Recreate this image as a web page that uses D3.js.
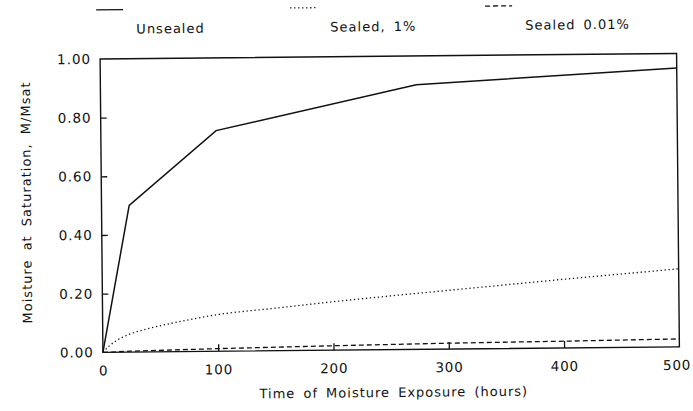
<!DOCTYPE html>
<html>
<head>
<meta charset="utf-8">
<script src="https://cdn.jsdelivr.net/npm/d3@7"></script>
<style>
  html, body { margin: 0; padding: 0; background: #fff; }
  svg { display: block; }
  text { font-family: "DejaVu Sans", Verdana, sans-serif; fill: #111; }
</style>
</head>
<body>
<svg id="chart" width="693" height="411"></svg>
<script>
// Moisture uptake vs. exposure time
const unsealedHours = [0, 24, 100, 274, 500];
const unsealedM     = [0, 0.50, 0.752, 0.902, 0.950];

const sealed1Hours = [0, 5, 12, 24, 40, 60, 100, 150, 200, 250, 300, 350, 400, 450, 500];
const sealed1M     = [0, 0.02, 0.04, 0.062, 0.08, 0.097, 0.125, 0.145, 0.165, 0.183, 0.200, 0.217, 0.234, 0.250, 0.266];

const sealed001Hours = [0, 24, 100, 200, 300, 400, 500];
const sealed001M     = [0, 0.003, 0.009, 0.015, 0.020, 0.023, 0.027];

const seriesNames = ["Unsealed", "Sealed, 1%", "Sealed 0.01%"];
const seriesDash  = [null, "1.3,2.7", "5,3"];

const xTickValues = [0, 100, 200, 300, 400, 500];
const yTickValues = [0, 0.2, 0.4, 0.6, 0.8, 1.0];

const xTitle = "Time of Moisture Exposure (hours)";
const yTitle = "Moisture at Saturation, M/Msat";

const svg = d3.select("#chart");
const plotLeft = 101.5, plotRight = 678, plotTop = 56.2, plotBottom = 349.6;

// the whole sheet sits slightly tilted
const root = svg.append("g").attr("transform", "rotate(-0.55, 390, 203)");

const x = d3.scaleLinear().domain([0, 500]).range([plotLeft, plotRight]);
const y = d3.scaleLinear().domain([0, 1]).range([plotBottom, plotTop]);

// frame
root.append("rect")
  .attr("x", plotLeft).attr("y", plotTop)
  .attr("width", plotRight - plotLeft).attr("height", plotBottom - plotTop)
  .attr("fill", "none").attr("stroke", "#111").attr("stroke-width", 1.4);

// x axis with inward ticks
const xAxis = root.append("g")
  .attr("transform", `translate(0,${plotBottom})`)
  .call(d3.axisBottom(x).tickValues(xTickValues).tickFormat(d3.format("d")).tickSize(0).tickPadding(0));
xAxis.select(".domain").remove();
xAxis.selectAll(".tick line").remove();
xAxis.selectAll(".tick").filter(d => d > 0 && d < 500)
  .append("line").attr("y1", 0).attr("y2", -7).attr("stroke", "#111").attr("stroke-width", 1.3);
xAxis.selectAll(".tick text")
  .attr("y", 23).attr("dy", 0)
  .attr("dx", d => d === 500 ? -3 : 0)
  .style("font-size", "13.5px").style("letter-spacing", "0.8px").attr("fill", "#111");

// y axis with inward ticks
const yAxis = root.append("g")
  .attr("transform", `translate(${plotLeft},0)`)
  .call(d3.axisLeft(y).tickValues(yTickValues).tickFormat(d3.format(".2f")).tickSize(0).tickPadding(9));
yAxis.select(".domain").remove();
yAxis.selectAll(".tick line").remove();
yAxis.selectAll(".tick").filter(d => d > 0 && d < 1)
  .append("line").attr("x1", 0).attr("x2", 6).attr("stroke", "#111").attr("stroke-width", 1.3);
yAxis.selectAll(".tick text")
  .style("font-size", "13.5px").style("letter-spacing", "1px").attr("fill", "#111");

// titles
root.append("text")
  .attr("x", 392).attr("y", 397)
  .attr("text-anchor", "middle")
  .style("font-size", "13px").style("letter-spacing", "1px").style("word-spacing", "3px")
  .text(xTitle);

root.append("text")
  .attr("transform", "translate(31,199) rotate(-90)")
  .attr("text-anchor", "middle")
  .style("font-size", "13px").style("letter-spacing", "1px").style("word-spacing", "4px")
  .text(yTitle);

// curves
const seriesData = [
  unsealedHours.map((h, i) => [h, unsealedM[i]]),
  sealed1Hours.map((h, i) => [h, sealed1M[i]]),
  sealed001Hours.map((h, i) => [h, sealed001M[i]])
];
const line = d3.line().x(d => x(d[0])).y(d => y(d[1]));
const smooth = d3.line().x(d => x(d[0])).y(d => y(d[1])).curve(d3.curveMonotoneX);

seriesData.forEach((pts, i) => {
  root.append("path")
    .attr("d", i === 1 ? smooth(pts) : line(pts))
    .attr("fill", "none")
    .attr("stroke", "#111")
    .attr("stroke-width", i === 0 ? 1.5 : 1.3)
    .attr("stroke-dasharray", seriesDash[i]);
});

// legend across the top
const legendLineX = [98, 292, 487];
const legendTextX = [138, 332, 527];
seriesNames.forEach((name, i) => {
  root.append("line")
    .attr("x1", legendLineX[i]).attr("x2", legendLineX[i] + 27)
    .attr("y1", 7).attr("y2", 7)
    .attr("stroke", "#111").attr("stroke-width", 1.3)
    .attr("stroke-dasharray", seriesDash[i]);
  root.append("text")
    .attr("x", legendTextX[i]).attr("y", 31)
    .style("font-size", "13px").style("letter-spacing", "1px").style("word-spacing", "3px")
    .text(name);
});
</script>
</body>
</html>
